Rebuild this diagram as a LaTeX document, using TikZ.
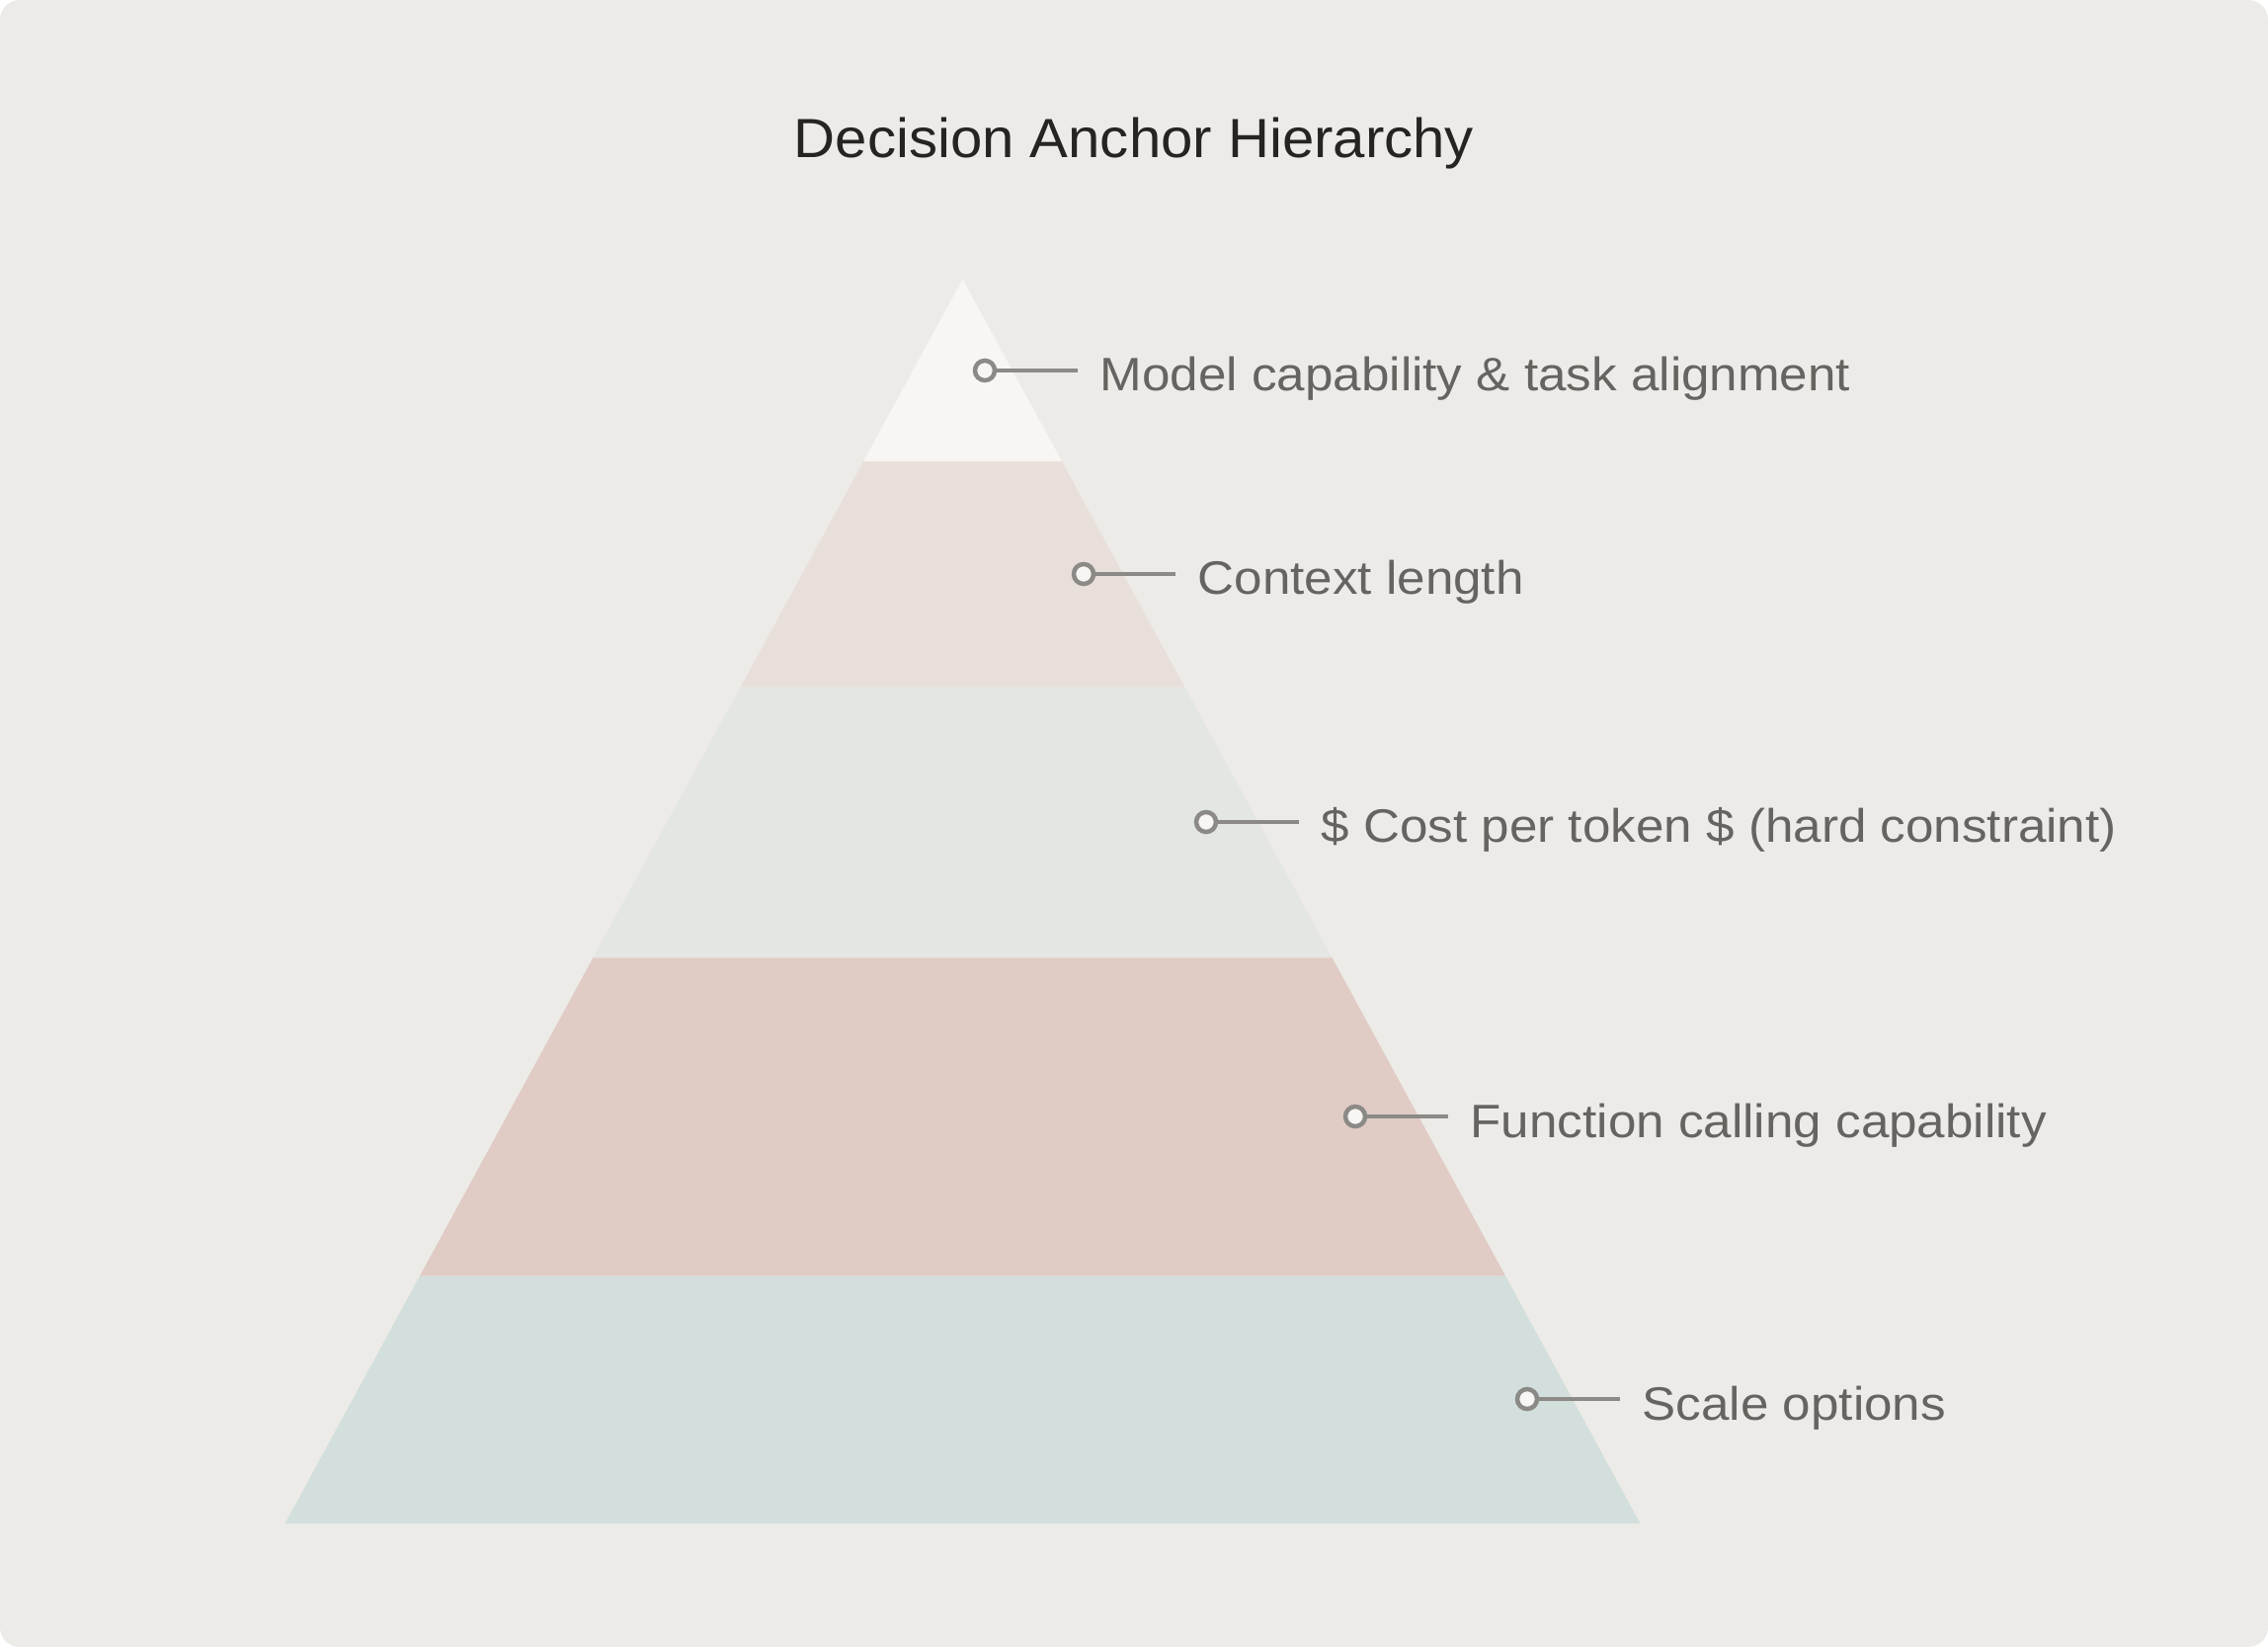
\documentclass[tikz,border=0pt]{standalone}
\usepackage{fontspec}
\setmainfont{Liberation Sans}[FakeStretch=1.078]
\newfontfamily\titlefont{Liberation Sans}[FakeStretch=1.04]
\usepackage{xcolor}
\usetikzlibrary{positioning}
\definecolor{canvas}{HTML}{EDEBE8}
\definecolor{tierA}{HTML}{F8F5F2}
\definecolor{tierB}{HTML}{E8DFDB}
\definecolor{tierC}{HTML}{E4E6E3}
\definecolor{tierD}{HTML}{E0CCC5}
\definecolor{tierE}{HTML}{D3DFDC}
\definecolor{ink}{HTML}{262421}
\definecolor{label}{HTML}{666460}
\definecolor{leader}{HTML}{8C8A87}

\begin{document}
\begin{tikzpicture}[
  x=0.01cm,y=-0.01cm,
  dot/.style={circle,draw=leader,fill=tierA,line width=0.045cm,minimum size=0.2cm,inner sep=0pt},
  lbl/.style={anchor=base west,inner sep=0pt,text=label,font=\fontsize{13.5}{16}\selectfont},
  lead/.style={draw=leader,line width=0.04cm,shorten >=0.22cm}
]
\useasboundingbox (0,0) rectangle (2296,1667);
\fill[white] (0,0) rectangle (2296,1667);
\fill[canvas,rounded corners=0.2cm] (0,0) rectangle (2296,1667);
% pyramid tiers
\foreach \yt/\yb/\col in {282.6/467/tierA,467/695.6/tierB,695.6/969.4/tierC,969.4/1291.5/tierD,1291.5/1542/tierE}
  \fill[\col] ({974.5-0.5447*(\yt-282.6)},\yt) -- ({974.5+0.5447*(\yt-282.6)},\yt)
    -- ({974.5+0.5447*(\yb-282.6)},\yb) -- ({974.5-0.5447*(\yb-282.6)},\yb) -- cycle;
\node[anchor=base,inner sep=0pt,text=ink,font=\titlefont\fontsize{15.9}{19}\selectfont] (title) at (1148,160) {Decision Anchor Hierarchy};
\node[dot] (d1) at (997,375)  {};
\node[dot] (d2) at (1097,581) {};
\node[dot] (d3) at (1221,832) {};
\node[dot] (d4) at (1372,1130) {};
\node[dot] (d5) at (1546,1416) {};
\node[lbl] (l1) at (1113,396)  {Model capability \& task alignment};
\node[lbl] (l2) at (1212,602)  {Context length};
\node[lbl] (l3) at (1337,853)  {\$ Cost per token \$ (hard constraint)};
\node[lbl] (l4) at (1488,1151) {Function calling capability};
\node[lbl] (l5) at (1662,1437) {Scale options};
\foreach \i in {1,...,5} \draw[lead] (d\i.east) -- (d\i.east -| l\i.west);
\end{tikzpicture}
\end{document}
